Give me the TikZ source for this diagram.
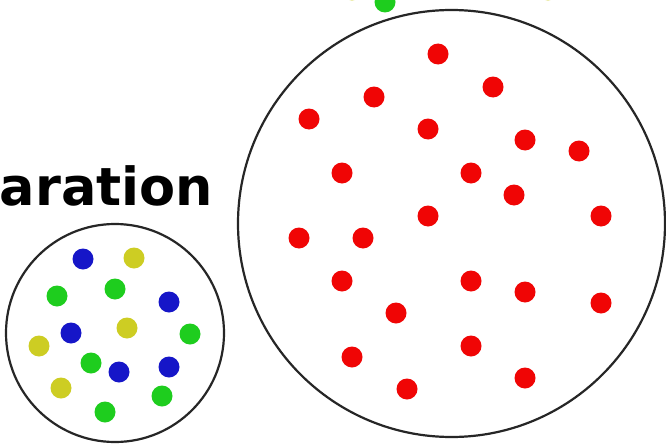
\documentclass[tikz,border=0pt]{standalone}
\usepackage{fontspec}
\setsansfont{DejaVu Sans}
\definecolor{dotred}{RGB}{240,5,5}
\definecolor{dotblue}{RGB}{22,22,200}
\definecolor{dotgreen}{RGB}{30,205,30}
\definecolor{dotyellow}{RGB}{205,205,35}
\tikzset{
  dotbase/.style={circle, inner sep=0pt, minimum size=21pt, draw=none},
  rdot/.style={dotbase, fill=dotred},
  bdot/.style={dotbase, fill=dotblue},
  gdot/.style={dotbase, fill=dotgreen},
  ydot/.style={dotbase, fill=dotyellow},
  vessel/.style={circle, draw=black!85, line width=2.2pt, inner sep=0pt},
}
\begin{document}
\begin{tikzpicture}[x=1pt,y=-1pt]
\useasboundingbox (0,0) rectangle (666,444);
\fill[white] (0,0) rectangle (666,444);
% partial dots at top
\node[ydot] (t1) at (352,-10) {};
\node[gdot] (t2) at (385,2) {};
\node[ydot] (t3) at (548,-10) {};
% large circle
\node[vessel, minimum size=427pt] (big) at (451.5,223.5) {};
\foreach \i/\x/\y in {1/438/54,2/493/87,3/374/97,4/309/119,5/428/129,6/525/140,7/579/151,8/342/173,9/471/173,10/514/195,11/428/216,12/601/216,13/299/238,14/363/238,15/342/281,16/471/281,17/525/292,18/601/303,19/396/313,20/471/346,21/352/357,22/525/378,23/407/389}
  \node[rdot] (r\i) at (\x,\y) {};
% text
\node[anchor=base west, inner sep=0pt, font=\sffamily\bfseries\fontsize{52.5}{52.5}\selectfont] (title) at (-0.5,205) {aration};
% small circle
\node[vessel, minimum size=218pt] (small) at (115,333) {};
\node[bdot] (s1) at (83,259) {};
\node[ydot] (s2) at (134,258) {};
\node[gdot] (s3) at (57,296) {};
\node[gdot] (s4) at (115,289) {};
\node[bdot] (s5) at (169,302) {};
\node[bdot] (s6) at (71,333) {};
\node[ydot] (s7) at (127,328) {};
\node[gdot] (s8) at (190,334) {};
\node[ydot] (s9) at (39,346) {};
\node[gdot] (s10) at (91,363) {};
\node[bdot] (s11) at (119,372) {};
\node[bdot] (s12) at (169,367) {};
\node[ydot] (s13) at (61,388) {};
\node[gdot] (s14) at (162,396) {};
\node[gdot] (s15) at (105,412) {};
\end{tikzpicture}
\end{document}
